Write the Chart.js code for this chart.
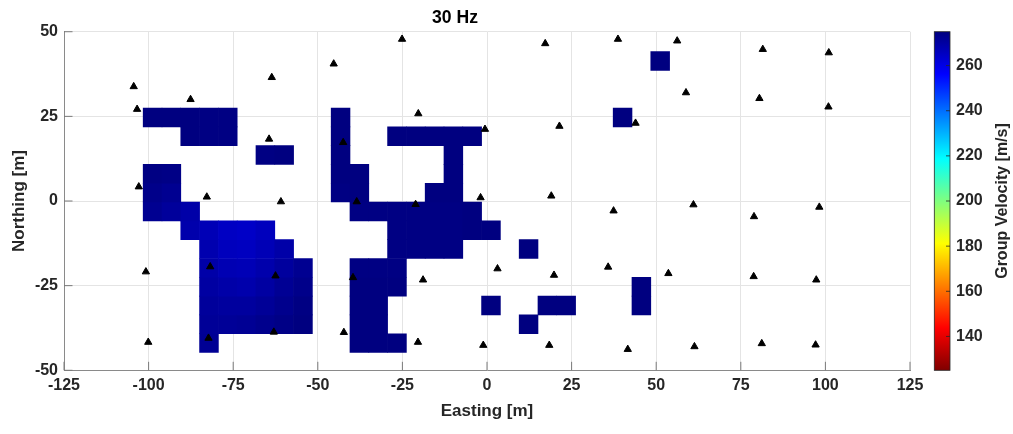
<!DOCTYPE html>
<html>
<head>
<meta charset="utf-8">
<title>30 Hz group velocity</title>
<script src="https://cdn.jsdelivr.net/npm/chart.js@4.4.0/dist/chart.umd.min.js"></script>
<style>
  html, body { margin: 0; padding: 0; background: #fff; }
  canvas { display: block; }
</style>
</head>
<body>
<canvas id="velocityMap" width="1013" height="434"></canvas>
<script>
// inversion grid (m): lower-left corner of cell (0,0) and cell size
const gridEast0 = -101.6;
const gridNorth0 = -44.75;
const cellSize = 50 / 9;

// resolved cells: column, row, group velocity (m/s)
const cellCol = [
  0, 0, 0, 0,
  1, 1, 1, 1,
  2, 2, 2, 2,
  3, 3, 3, 3, 3, 3, 3, 3, 3,
  4, 4, 4, 4, 4, 4, 4, 4,
  5, 5, 5, 5, 5, 5,
  6, 6, 6, 6, 6, 6, 6,
  7, 7, 7, 7, 7, 7,
  8, 8, 8, 8,
  10, 10, 10, 10, 10,
  11, 11, 11, 11, 11, 11, 11, 11,
  12, 12, 12, 12, 12, 12,
  13, 13, 13, 13, 13, 13, 13,
  14, 14, 14, 14,
  15, 15, 15, 15, 15,
  16, 16, 16, 16, 16, 16, 16,
  17, 17, 17,
  18, 18,
  20, 20,
  21, 22,
  25,
  26, 26,
  27
];
const cellRow = [
  7, 8, 9, 12,
  7, 8, 9, 12,
  6, 7, 11, 12,
  0, 1, 2, 3, 4, 5, 6, 11, 12,
  1, 2, 3, 4, 5, 6, 11, 12,
  1, 2, 3, 4, 5, 6,
  1, 2, 3, 4, 5, 6, 10,
  1, 2, 3, 4, 5, 10,
  1, 2, 3, 4,
  8, 9, 10, 11, 12,
  0, 1, 2, 3, 4, 7, 8, 9,
  0, 1, 2, 3, 4, 7,
  0, 3, 4, 5, 6, 7, 11,
  5, 6, 7, 11,
  5, 6, 7, 8, 11,
  5, 6, 7, 8, 9, 10, 11,
  6, 7, 11,
  2, 6,
  1, 5,
  2, 2,
  12,
  2, 3,
  15
];
const cellVelocity = [
  272.5, 273.5, 274.5, 275,
  271, 272.5, 274, 275,
  268.5, 269, 275, 275,
  272, 271.5, 271, 270, 269, 268, 267, 274.5, 274.5,
  271.5, 270.5, 269, 267.5, 266, 265, 274.5, 274.5,
  272, 270.5, 268.5, 267, 265.5, 264.5,
  273, 271.5, 270, 268.5, 267, 266, 274.5,
  274, 273, 272, 270.5, 269, 275,
  275, 274.5, 273.5, 272.5,
  274.5, 275, 275, 275, 275,
  275, 275, 275, 275, 274.5, 274.5, 275, 275,
  275, 275, 275, 275, 274.5, 274.5,
  275, 275, 274.5, 274.5, 274.5, 274.5, 275,
  274.5, 274.5, 274.5, 275,
  274.5, 274.5, 274.5, 275, 275,
  274.5, 274.5, 274.5, 275, 275, 275, 275,
  275, 275, 275,
  275, 275,
  275, 275,
  275, 275,
  275,
  275, 275,
  275
];

// geophone stations (m)
const stationEast = [
  -104.4, -103.4, -87.6, -63.6, -45.3, -64.4, -42.5, -102.9, -82.8, -60.9, -38.5,
  -100.8, -81.8, -62.5, -39.6, -100.1, -82.3, -63.0, -42.3, -25.1, 17.2, 38.7,
  -20.3, -0.6, 21.4, -21.1, -1.9, 19.0, 37.4, 3.1, -18.9, 19.8, 35.8,
  -20.4, -1.1, 18.4, 56.2, 81.5, 101.0, 58.8, 80.5, 100.9, 43.9,
  61.0, 78.9, 98.2, 53.6, 78.8, 97.3, 41.6, 61.3, 81.2, 97.1
];
const stationNorth = [
  33.8, 27.1, 30.0, 36.5, 40.5, 18.3, 17.3, 4.2, 1.2, -0.2, -0.2,
  -20.9, -19.4, -22.1, -22.6, -41.7, -40.5, -38.7, -38.8, 47.8, 46.5, 47.8,
  25.8, 21.2, 22.1, -1.0, 1.0, 1.5, -2.9, -20.0, -23.3, -21.9, -19.5,
  -41.7, -42.6, -42.6, 47.3, 44.8, 43.8, 32.0, 30.3, 27.8, 23.0,
  -1.1, -4.6, -1.8, -21.4, -22.3, -23.3, -43.8, -43.0, -42.1, -42.5
];

// colour scale
const velocityMin = 125;
const velocityMax = 275;
const velocityTicks = [140, 160, 180, 200, 220, 240, 260];

const FONT = '"Liberation Sans", Arial, Helvetica, sans-serif';
const INK = '#262626';
Chart.defaults.font.family = FONT;
Chart.defaults.color = INK;

// reversed jet: fast = dark blue, slow = dark red
function jetColor(v) {
  let t = (velocityMax - v) / (velocityMax - velocityMin);
  t = Math.min(1, Math.max(0, t));
  const ch = c => Math.round(255 * Math.min(1, Math.max(0, 1.5 - Math.abs(4 * t - c))));
  return 'rgb(' + ch(3) + ',' + ch(2) + ',' + ch(1) + ')';
}

const cells = cellCol.map((c, k) => ({
  x: gridEast0 + (c + 0.5) * cellSize,
  y: [gridNorth0 + cellRow[k] * cellSize, gridNorth0 + (cellRow[k] + 1) * cellSize]
}));

const stations = stationEast.map((e, k) => ({ x: e, y: stationNorth[k] }));

// inward tick marks on the left and bottom axes
const axisTicks = {
  id: 'axisTicks',
  afterDatasetsDraw(chart) {
    const { ctx, chartArea: a, scales: { x, y } } = chart;
    ctx.save();
    ctx.strokeStyle = '#7a7a7a';
    ctx.lineWidth = 1;
    ctx.beginPath();
    x.ticks.forEach(t => {
      const px = x.getPixelForValue(t.value);
      ctx.moveTo(px, a.bottom);
      ctx.lineTo(px, a.bottom - 8.5);
    });
    y.ticks.forEach(t => {
      const py = y.getPixelForValue(t.value);
      ctx.moveTo(a.left, py);
      ctx.lineTo(a.left + 8.5, py);
    });
    ctx.stroke();
    ctx.restore();
  }
};

// colour bar to the right of the map, on the hidden velocity scale
const colorBar = {
  id: 'colorBar',
  afterDraw(chart) {
    const { ctx, chartArea: a, scales: { cbar } } = chart;
    const left = a.right + 24.3;
    const width = 15.7;
    const top = cbar.getPixelForValue(velocityMax);
    const bottom = cbar.getPixelForValue(velocityMin);

    const grad = ctx.createLinearGradient(0, top, 0, bottom);
    [0, 0.125, 0.375, 0.625, 0.875, 1].forEach(f => {
      grad.addColorStop(f, jetColor(velocityMax - f * (velocityMax - velocityMin)));
    });
    ctx.save();
    ctx.fillStyle = grad;
    ctx.fillRect(left, top, width, bottom - top);
    ctx.strokeStyle = INK;
    ctx.lineWidth = 0.8;
    ctx.strokeRect(left, top, width, bottom - top);

    ctx.beginPath();
    velocityTicks.forEach(v => {
      const py = cbar.getPixelForValue(v);
      ctx.moveTo(left + width, py);
      ctx.lineTo(left + width - 4, py);
    });
    ctx.stroke();

    ctx.fillStyle = INK;
    ctx.font = 'bold 16px ' + FONT;
    ctx.textAlign = 'left';
    ctx.textBaseline = 'middle';
    velocityTicks.forEach(v => {
      ctx.fillText(String(v), left + width + 6, cbar.getPixelForValue(v));
    });

    ctx.translate(1003, (top + bottom) / 2);
    ctx.rotate(-Math.PI / 2);
    ctx.textAlign = 'center';
    ctx.font = 'bold 16px ' + FONT;
    ctx.fillText('Group Velocity [m/s]', 0, 0);
    ctx.restore();
  }
};

new Chart(document.getElementById('velocityMap'), {
  type: 'scatter',
  data: {
    datasets: [
      {
        label: 'Stations',
        type: 'scatter',
        data: stations,
        pointStyle: 'triangle',
        pointRadius: 4.2,
        pointBackgroundColor: '#000',
        pointBorderColor: '#000',
        pointBorderWidth: 1,
        order: 1
      },
      {
        label: 'Group Velocity',
        type: 'bar',
        data: cells,
        backgroundColor: ctx => jetColor(cellVelocity[ctx.dataIndex]),
        borderWidth: 0,
        barPercentage: 1,
        categoryPercentage: 1,
        order: 2
      }
    ]
  },
  options: {
    responsive: false,
    animation: false,
    events: [],
    devicePixelRatio: 1,
    layout: { padding: { left: 0, right: 103, top: 0, bottom: 0 } },
    plugins: {
      legend: { display: false },
      tooltip: { enabled: false },
      title: {
        display: true,
        text: '30 Hz',
        color: '#000',
        font: { size: 17.6, weight: 'bold' },
        padding: { top: 8, bottom: 2.6 }
      }
    },
    scales: {
      x: {
        type: 'linear',
        min: -125,
        max: 125,
        offset: false,
        ticks: { stepSize: 25, maxRotation: 0, padding: 6, font: { size: 16, weight: 'bold' } },
        grid: { color: '#e4e4e4', drawTicks: false, offset: false },
        border: { color: '#8a8a8a' },
        title: {
          display: true,
          text: 'Easting [m]',
          font: { size: 17, weight: 'bold' },
          padding: { top: 0, bottom: 12 }
        },
        afterFit: s => { s.height = 63.7; }
      },
      y: {
        type: 'linear',
        min: -50,
        max: 50,
        ticks: { stepSize: 25, padding: 6, font: { size: 16, weight: 'bold' } },
        grid: { color: '#e4e4e4', drawTicks: false },
        border: { color: '#8a8a8a' },
        title: {
          display: true,
          text: 'Northing [m]',
          font: { size: 17, weight: 'bold' },
          padding: { top: 9, bottom: 0 }
        },
        afterFit: s => { s.width = 64; }
      },
      cbar: {
        type: 'linear',
        position: 'right',
        display: false,
        min: velocityMin,
        max: velocityMax
      }
    }
  },
  plugins: [axisTicks, colorBar]
});
</script>
</body>
</html>
